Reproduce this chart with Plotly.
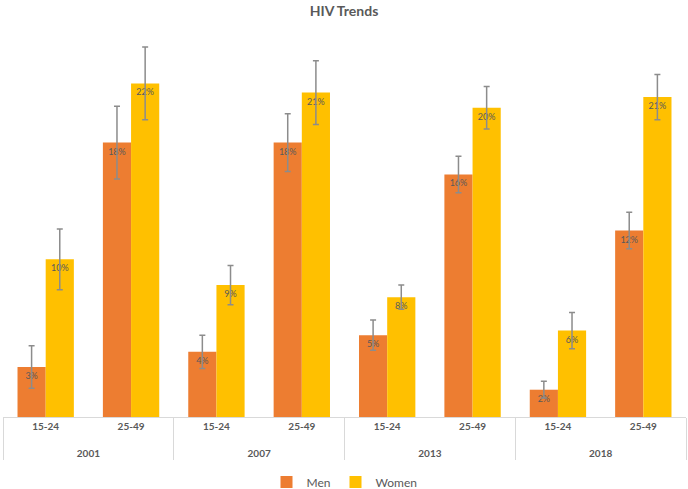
import plotly.graph_objects as go

years = ["2001", "2001", "2007", "2007", "2013", "2013", "2018", "2018"]
ages = ["15-24", "25-49", "15-24", "25-49", "15-24", "25-49", "15-24", "25-49"]
men = [3.3, 18.1, 4.3, 18.1, 5.4, 16.0, 1.8, 12.3]
women = [10.4, 22.0, 8.7, 21.4, 7.9, 20.4, 5.7, 21.1]
men_err = [1.4, 2.4, 1.1, 1.9, 1.0, 1.2, 0.55, 1.2]
women_err = [2.0, 2.4, 1.3, 2.1, 0.8, 1.4, 1.2, 1.5]

gray = "#595959"
font = "Lato"

# leading line break pushes the year (outer) level lower, like the Excel layout
year_labels = ["<br>" + y for y in years]

fig = go.Figure()
for name, vals, err, col in [("Men", men, men_err, "#ED7D31"), ("Women", women, women_err, "#FFC000")]:
    fig.add_trace(go.Bar(
        name=name, x=[year_labels, ages], y=vals, marker_color=col,
        marker_line_width=0,
        texttemplate="%{y:.0f}%", textposition="inside", insidetextanchor="end",
        textfont=dict(size=9, color=gray, family=font), textangle=0,
        error_y=dict(type="data", array=err, visible=True, color="#8c8c8c", thickness=1.5, width=3),
    ))

fig.update_layout(
    width=688, height=489,
    barmode="group", bargap=0.34, bargroupgap=0,
    plot_bgcolor="white", paper_bgcolor="white",
    margin=dict(l=3, r=2, t=38, b=72, autoexpand=False),
    title=dict(text="<b>HIV Trends</b>", x=0.5, xanchor="center", y=1 - 11 / 489, yanchor="middle",
               font=dict(size=14, color=gray, family=font)),
    showlegend=True,
    legend=dict(orientation="h", x=0.5, xanchor="center", y=-0.1715, yanchor="middle",
                font=dict(size=12, color=gray, family=font), itemwidth=30),
)
fig.update_xaxes(type="multicategory", showline=True, linecolor="#d9d9d9", linewidth=1,
                 showdividers=True, dividercolor="#d9d9d9", dividerwidth=1, automargin=False,
                 ticks="outside", ticklen=10, tickcolor="rgba(0,0,0,0)",
                 tickfont=dict(size=10, color=gray, family=font, weight="bold"))
fig.update_yaxes(range=[0, 25], visible=False, showgrid=False, automargin=False)

fig.write_html("out.html", config={"displayModeBar": False},
               post_script="document.body.style.margin='0';")
